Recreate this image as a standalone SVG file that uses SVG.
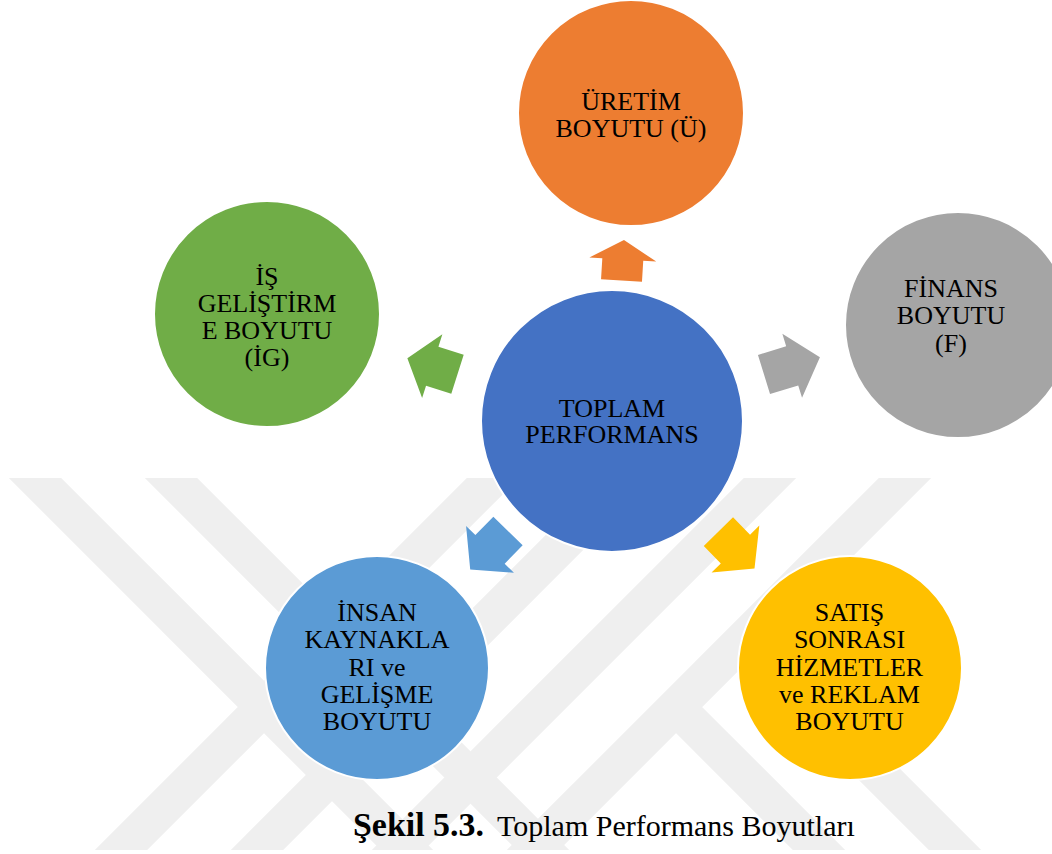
<svg xmlns="http://www.w3.org/2000/svg" width="1052" height="854" viewBox="0 0 1052 854">
  <defs>
    <style>
      .lbl{font-family:"Liberation Serif","Times New Roman",serif;font-size:26px;fill:#000;text-anchor:middle}
      .cap{font-family:"Liberation Serif","Times New Roman",serif;font-size:30px;fill:#000}
      .capb{font-family:"Liberation Serif","Times New Roman",serif;font-size:33px;font-weight:bold;fill:#000}
      .node{stroke:#fff;stroke-width:2}
      .wm{fill:none;stroke:#efefef;stroke-width:37;stroke-linecap:butt}
    </style>
    <clipPath id="wmClip">
      <rect x="0" y="478" width="1052" height="372"/>
    </clipPath>
  </defs>

  <rect width="1052" height="854" fill="#fff"/>

  <!-- faint background emblem: diagonal bands -->
  <g id="watermark" clip-path="url(#wmClip)">
    <path class="wm" d="M4,447 L444,887 M524,447 L84,887"/>
    <path class="wm" d="M140,447 L580,887 M660,447 L220,887"/>
    <path class="wm" d="M801,447 L361,887"/>
    <path class="wm" d="M936,447 L496,887 M663,694 L856,887"/>
    <path class="wm" d="M772,667 L992,887"/>
  </g>

  <!-- arrows from the centre to each dimension -->
  <g id="connectors">
    <path fill="#ED7D31" transform="translate(621.5,280.5) rotate(-86.5)" d="M0,-20.5 L21,-20.5 L21,-33.5 L40.6,0 L21,33.5 L21,20.5 L0,20.5 Z"/>
    <path fill="#70AD47" transform="translate(457.5,374.2) rotate(197.6)" d="M0,-20.5 L26.5,-20.5 L26.5,-33.5 L52.6,0 L26.5,33.5 L26.5,20.5 L0,20.5 Z"/>
    <path fill="#A5A5A5" transform="translate(764,374.5) rotate(-17.1)" d="M0,-20.5 L29.5,-20.5 L29.5,-33.5 L58.5,0 L29.5,33.5 L29.5,20.5 L0,20.5 Z"/>
    <path fill="#5B9BD5" transform="translate(508,531) rotate(134.4)" d="M0,-20.5 L25.7,-20.5 L25.7,-33.5 L54,0 L25.7,33.5 L25.7,20.5 L0,20.5 Z"/>
    <path fill="#FFC000" transform="translate(718.4,531.7) rotate(45.5)" d="M0,-20.5 L24.3,-20.5 L24.3,-33.5 L51.5,0 L24.3,33.5 L24.3,20.5 L0,20.5 Z"/>
  </g>

  <g id="node-uretim">
    <circle class="node" cx="631" cy="113" r="113" fill="#ED7D31"/>
    <text class="lbl" x="631" y="110">ÜRETİM</text>
    <text class="lbl" x="631" y="137">BOYUTU (Ü)</text>
  </g>

  <g id="node-is-gelistirme">
    <circle class="node" cx="267" cy="314" r="113" fill="#70AD47"/>
    <text class="lbl" x="267" y="284.5">İŞ</text>
    <text class="lbl" x="267" y="311.8">GELİŞTİRM</text>
    <text class="lbl" x="267" y="339">E BOYUTU</text>
    <text class="lbl" x="267" y="366.3">(İG)</text>
  </g>

  <g id="node-finans">
    <circle class="node" cx="958" cy="325" r="113" fill="#A5A5A5"/>
    <text class="lbl" x="951" y="297">FİNANS</text>
    <text class="lbl" x="951" y="324">BOYUTU</text>
    <text class="lbl" x="951" y="351.5">(F)</text>
  </g>

  <g id="node-toplam">
    <circle class="node" cx="612" cy="421" r="131" fill="#4472C4"/>
    <text class="lbl" x="612" y="416.5">TOPLAM</text>
    <text class="lbl" x="612" y="443">PERFORMANS</text>
  </g>

  <g id="node-insan-kaynaklari">
    <circle class="node" cx="377" cy="668" r="112" fill="#5B9BD5"/>
    <text class="lbl" x="377" y="621">İNSAN</text>
    <text class="lbl" x="377" y="648.3">KAYNAKLA</text>
    <text class="lbl" x="377" y="675.6">RI ve</text>
    <text class="lbl" x="377" y="702.9">GELİŞME</text>
    <text class="lbl" x="377" y="730.2">BOYUTU</text>
  </g>

  <g id="node-satis-sonrasi">
    <circle class="node" cx="850" cy="668" r="112" fill="#FFC000"/>
    <text class="lbl" x="849.5" y="621">SATIŞ</text>
    <text class="lbl" x="849.5" y="648.3">SONRASI</text>
    <text class="lbl" x="849.5" y="675.6">HİZMETLER</text>
    <text class="lbl" x="849.5" y="702.9">ve REKLAM</text>
    <text class="lbl" x="849.5" y="730.2">BOYUTU</text>
  </g>

  <g id="caption">
    <text class="capb" x="353" y="836" textLength="131" lengthAdjust="spacingAndGlyphs">Şekil 5.3.</text>
    <text class="cap" x="497" y="836">Toplam Performans Boyutları</text>
  </g>
</svg>
